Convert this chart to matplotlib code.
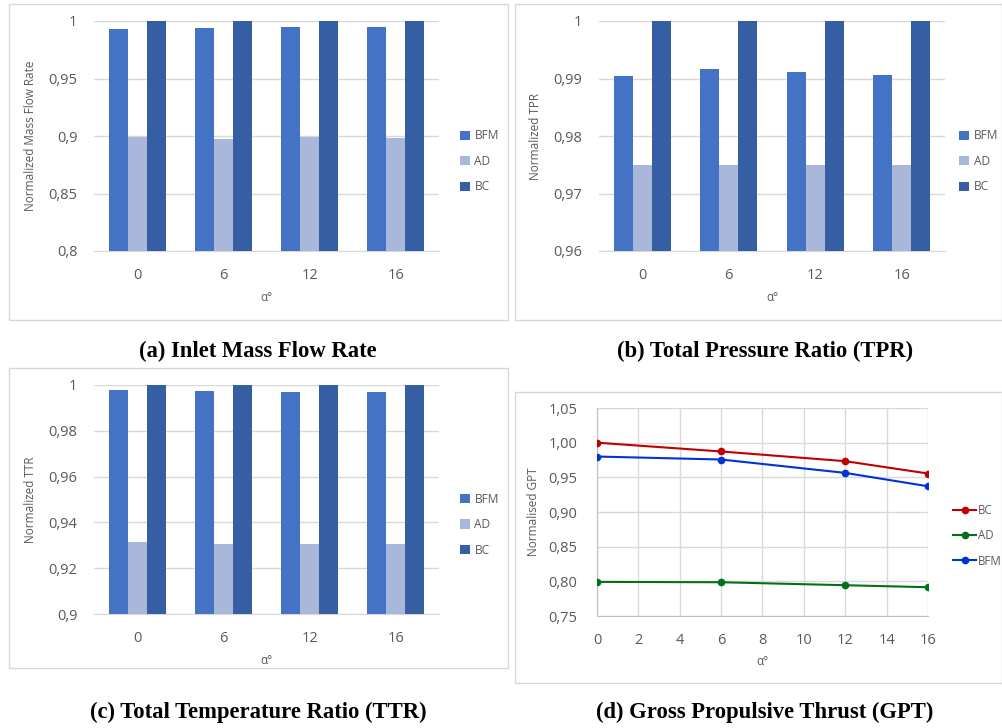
import matplotlib
matplotlib.use('Agg')
import matplotlib.pyplot as plt
from matplotlib.patches import Rectangle
import numpy as np

# ---- data ----
alpha_cats = ['0', '6', '12', '16']
bar_series = ['BFM', 'AD', 'BC']

mfr_bfm = [0.993, 0.9942, 0.9945, 0.9948]
mfr_ad = [0.899, 0.8974, 0.8994, 0.8986]
mfr_bc = [1.0, 1.0, 1.0, 1.0]

tpr_bfm = [0.9904, 0.99165, 0.99119, 0.99067]
tpr_ad = [0.9749, 0.9749, 0.9749, 0.9749]
tpr_bc = [1.0, 1.0, 1.0, 1.0]

ttr_bfm = [0.9978, 0.9974, 0.9971, 0.9969]
ttr_ad = [0.9316, 0.9307, 0.9307, 0.9307]
ttr_bc = [1.0, 1.0, 1.0, 1.0]

gpt_alpha = [0, 6, 12, 16]
gpt_bc = [1.000, 0.9873, 0.9733, 0.9555]
gpt_ad = [0.7992, 0.7987, 0.7944, 0.7915]
gpt_bfm = [0.980, 0.9757, 0.9564, 0.9371]

# ---- style ----
W, H = 1003, 728
TXT = '#595959'
GRID = '#D9D9D9'
bar_colors = {'BFM': '#4472C4', 'AD': '#A9B7DB', 'BC': '#365EA3'}
line_colors = {'BC': '#C00000', 'AD': '#00701A', 'BFM': '#0033D6'}
plt.rcParams['font.family'] = ['Open Sans', 'DejaVu Sans']

fig = plt.figure(figsize=(W / 100, H / 100), dpi=100)
fig.patch.set_facecolor('white')


def px_axes(x0, y0, x1, y1):
    return fig.add_axes([x0 / W, 1 - y1 / H, (x1 - x0) / W, (y1 - y0) / H])


def panel_box(x0, y0, x1, y1):
    fig.patches.append(Rectangle((x0 / W, 1 - y1 / H), (x1 - x0) / W, (y1 - y0) / H,
                                 transform=fig.transFigure, fill=False,
                                 edgecolor=GRID, linewidth=1.0))


def comma(v, nd):
    s = f"{v:.{nd}f}" if nd > 0 else f"{v:.0f}"
    return s.replace('.', ',')


def bar_panel(rect, series, ylim, yticks, ylabels, ylabel, leg_x=1.03):
    ax = px_axes(*rect)
    x = np.arange(len(alpha_cats))
    w = 0.22
    for i, (name, vals) in enumerate(zip(bar_series, series)):
        ax.bar(x + (i - 1) * w, [v - ylim[0] for v in vals], w, bottom=ylim[0],
               color=bar_colors[name], label=name, zorder=3)
    ax.set_xlim(-0.5, len(alpha_cats) - 0.5)
    ax.set_ylim(*ylim)
    ax.set_yticks(yticks)
    ax.set_yticklabels(ylabels)
    ax.set_xticks(x)
    ax.set_xticklabels(alpha_cats)
    ax.tick_params(length=0, colors=TXT, labelsize=10.5)
    ax.tick_params(axis='y', pad=12)
    ax.tick_params(axis='x', pad=12)
    ax.grid(axis='y', color=GRID, linewidth=1, zorder=0)
    for s in ['top', 'right', 'left']:
        ax.spines[s].set_visible(False)
    ax.spines['bottom'].set_color(GRID)
    ax.set_ylabel(ylabel, color=TXT, fontsize=8.5, labelpad=8)
    ax.set_xlabel('α°', color=TXT, fontsize=8.5, labelpad=6)
    ax.legend(loc='center left', bbox_to_anchor=(leg_x, 0.39), frameon=False,
              fontsize=8.6, handlelength=0.8, handleheight=0.8, labelspacing=1.05,
              handletextpad=0.4, labelcolor=TXT)
    return ax


# (a)
panel_box(9, 4, 508, 320)
bar_panel((94, 21, 439, 251), [mfr_bfm, mfr_ad, mfr_bc], (0.8, 1.0),
          [0.8, 0.85, 0.9, 0.95, 1.0], ['0,8', '0,85', '0,9', '0,95', '1'],
          'Normalized Mass Flow Rate')
# (b)
panel_box(515, 4, 1002, 320)
bar_panel((599, 21, 945, 251), [tpr_bfm, tpr_ad, tpr_bc], (0.96, 1.0),
          [0.96, 0.97, 0.98, 0.99, 1.0], ['0,96', '0,97', '0,98', '0,99', '1'],
          'Normalized TPR', leg_x=1.01)
# (c)
panel_box(9, 368, 508, 668)
bar_panel((94, 385, 439, 614), [ttr_bfm, ttr_ad, ttr_bc], (0.9, 1.0),
          [0.9, 0.92, 0.94, 0.96, 0.98, 1.0], ['0,9', '0,92', '0,94', '0,96', '0,98', '1'],
          'Normalized TTR')

# (d)
panel_box(515, 392, 1002, 683)
ax = px_axes(597, 408, 928, 616)
for name, vals in [('BC', gpt_bc), ('AD', gpt_ad), ('BFM', gpt_bfm)]:
    ax.plot(gpt_alpha, vals, color=line_colors[name], linewidth=1.5, marker='o',
            markersize=4.5, label=name, zorder=3)
ax.set_xlim(0, 16)
ax.set_ylim(0.75, 1.05)
ax.set_xticks(np.arange(0, 17, 2))
yt = np.arange(0.75, 1.051, 0.05)
ax.set_yticks(yt)
ax.set_yticklabels([comma(v, 2) for v in yt])
ax.tick_params(length=0, colors=TXT, labelsize=10.5)
ax.tick_params(axis='y', pad=14)
ax.tick_params(axis='x', pad=12)
ax.grid(True, color=GRID, linewidth=1, zorder=0)
for s in ax.spines.values():
    s.set_visible(False)
ax.spines['left'].set_visible(True)
ax.spines['bottom'].set_visible(True)
ax.spines['left'].set_color('#BFBFBF')
ax.spines['bottom'].set_color('#BFBFBF')
ax.set_ylabel('Normalised GPT', color=TXT, fontsize=8.5, labelpad=6)
ax.set_xlabel('α°', color=TXT, fontsize=8.5, labelpad=5)
ax.legend(loc='center left', bbox_to_anchor=(1.045, 0.385), frameon=False, fontsize=8.3,
          handlelength=2.0, labelspacing=1.05, handletextpad=0.15, labelcolor=TXT)

# captions
cap_kw = dict(ha='center', va='center', fontsize=16.3, fontweight='bold',
              family=['Liberation Serif', 'DejaVu Serif'], color='black')
fig.text(258 / W, 1 - 351 / H, '(a) Inlet Mass Flow Rate', **cap_kw)
fig.text(765 / W, 1 - 351 / H, '(b) Total Pressure Ratio (TPR)', **cap_kw)
fig.text(258 / W, 1 - 712 / H, '(c) Total Temperature Ratio (TTR)', **cap_kw)
fig.text(765 / W, 1 - 712 / H, '(d) Gross Propulsive Thrust (GPT)', **cap_kw)

fig.savefig('out.png', dpi=100)
